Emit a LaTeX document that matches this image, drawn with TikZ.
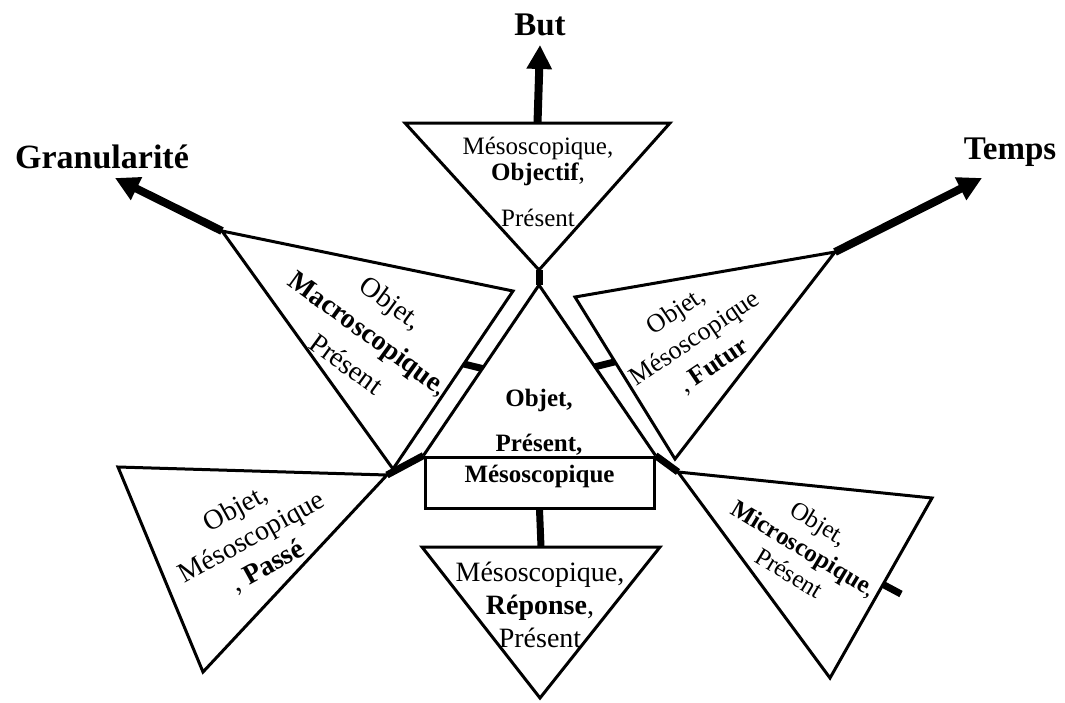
\documentclass[tikz,border=0pt]{standalone}
\usepackage{fontspec}
\setmainfont{Liberation Serif}
\usetikzlibrary{arrows.meta,calc}
\tikzset{
>={Triangle[width=12pt,length=12pt]},
  tri/.style={draw, line width=1.5pt},
  link/.style={draw, line width=3.5pt},
  axis/.style={draw, line width=4pt, ->},
  axislabel/.style={font=\fontsize{16.5}{18}\selectfont\bfseries},
  txt/.style={align=center, inner sep=0pt},
  box/.style={
    draw, line width=1.5pt,
    minimum width=114.5pt,
    minimum height=25.5pt,
    inner sep=0pt,
    text depth=8.5pt,
    font=\fontsize{12.5}{14}\selectfont\bfseries},
}

\begin{document}
\begin{tikzpicture}[x=0.5pt, y=-0.5pt]
  \useasboundingbox (0,0) rectangle (1065,702);
  % sommets
  \coordinate (T1) at (405,123);
  \coordinate (T2) at (670,123);
  \coordinate (T3) at (539,270);
  \coordinate (C1) at (539,285);
  \coordinate (M1) at (222,231);
  \coordinate (M2) at (513,291);
  \coordinate (M3) at (393,469);
  \coordinate (F1) at (575,297);
  \coordinate (F2) at (835,252);
  \coordinate (F3) at (675,459);
  \coordinate (P1) at (118,467);
  \coordinate (P2) at (387,475);
  \coordinate (P3) at (203,672);
  \coordinate (R1) at (678,472);
  \coordinate (R2) at (932,498);
  \coordinate (R3) at (830,678);
  \coordinate (Q1) at (422,547);
  \coordinate (Q2) at (660,547);
  \coordinate (Q3) at (540,698);
  \coordinate (butTip) at (540,45);
  \coordinate (granTip) at (115,178);
  \coordinate (tempsTip) at (982,178);
  \coordinate (stub) at (901,594);
  % axes
  \node[axislabel] (but) at (540,25) {But};
  \node[axislabel, font=\fontsize{17}{18}\selectfont\bfseries] (gran) at (102,157) {Granularité};
  \node[axislabel] (temps) at (1010,152) {Temps};
  \draw[axis] ($(T1)!0.5!(T2)$) -- (butTip);
  \draw[axis] (M1) -- (granTip);
  \draw[axis] (F2) -- (tempsTip);
  % triangles
  \node[box] (meso) at (539.5,482.5) {Mésoscopique};
  \draw[tri] (meso.north west) -- (C1) -- (meso.north east);
  \draw[tri] (T1) -- (T2) -- (T3) -- cycle;
  \draw[tri] (M1) -- (M2) -- (M3) -- cycle;
  \draw[tri] (F1) -- (F2) -- (F3) -- cycle;
  \draw[tri] (P1) -- (P2) -- (P3) -- cycle;
  \draw[tri] (R1) -- (R2) -- (R3) -- cycle;
  \draw[tri] (Q1) -- (Q2) -- (Q3) -- cycle;
  % liens
  \draw[link] (T3) -- (C1);
  \draw[link] (meso.north west) -- (P2);
  \draw[link] (meso.north east) -- (R1);
  \draw[link] (meso.south) -- ($(Q1)!0.5!(Q2)$);
  \draw[link] ($(M2)!0.41!(M3)$) -- ($(C1)!0.49!(meso.north west)$);
  \draw[link] ($(C1)!0.48!(meso.north east)$) -- ($(F1)!0.40!(F3)$);
  \draw[link] ($(R2)!0.48!(R3)$) -- (stub);
  % textes
  \node[txt, font=\fontsize{12.5}{13}\selectfont] (objTxt) at (538,182)
    {Mésoscopique,\\ \textbf{Objectif},\\[10pt] Présent};
  \node[txt, font=\fontsize{12.5}{22.5}\selectfont\bfseries] (centTxt) at (539,422)
    {Objet,\\ Présent,};
  \node[txt, rotate=-36, font=\fontsize{14}{19}\selectfont] (macroTxt) at (369,333)
    {Objet,\\ \textbf{Macroscopique},\\ Présent};
  \node[txt, rotate=34, font=\fontsize{13}{16.5}\selectfont] (futurTxt) at (695,339)
    {Objet,\\ Mésoscopique\\ , \textbf{Futur}};
  \node[txt, rotate=29, font=\fontsize{14}{16.5}\selectfont] (passeTxt) at (252,538)
    {Objet,\\ Mésoscopique\\ , \textbf{Passé}};
  \node[txt, rotate=-31, font=\fontsize{12.5}{14.5}\selectfont] (microTxt) at (804,548)
    {Objet,\\ \textbf{Microscopique},\\ Présent};
  \node[txt, font=\fontsize{14}{16.5}\selectfont] (repTxt) at (540,605)
    {Mésoscopique,\\ \textbf{Réponse},\\ Présent};
\end{tikzpicture}
\end{document}
